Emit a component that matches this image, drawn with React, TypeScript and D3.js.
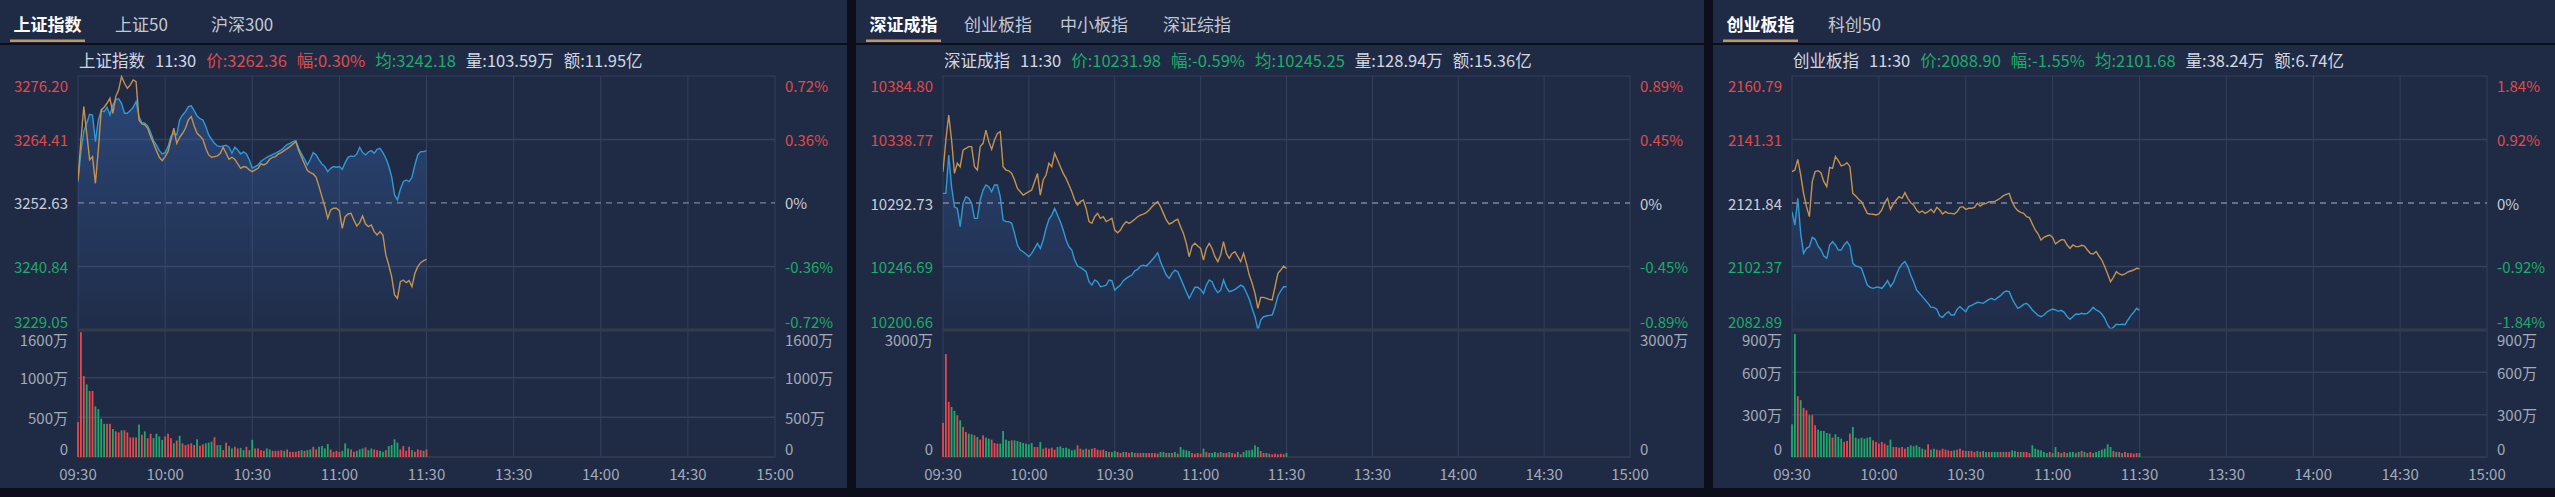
import React, { useEffect } from 'react';
import * as d3 from 'd3';

// ---------- DATA ----------
const TIME_LABELS = ['09:30', '10:00', '10:30', '11:00', '11:30', '13:30', '14:00', '14:30', '15:00'];

const SH_TABS = ['上证指数', '上证50', '沪深300'];
const SZ_TABS = ['深证成指', '创业板指', '中小板指', '深证综指'];
const CY_TABS = ['创业板指', '科创50'];

const SH_PRICE_TICKS = [3276.2, 3264.41, 3252.63, 3240.84, 3229.05];
const SH_PCT_TICKS = ['0.72%', '0.36%', '0%', '-0.36%', '-0.72%'];
const SZ_PRICE_TICKS = [10384.8, 10338.77, 10292.73, 10246.69, 10200.66];
const SZ_PCT_TICKS = ['0.89%', '0.45%', '0%', '-0.45%', '-0.89%'];
const CY_PRICE_TICKS = [2160.79, 2141.31, 2121.84, 2102.37, 2082.89];
const CY_PCT_TICKS = ['1.84%', '0.92%', '0%', '-0.92%', '-1.84%'];

const SH_VOL_TICKS = [0, 500, 1000, 1600];
const SZ_VOL_TICKS = [0, 3000];
const CY_VOL_TICKS = [0, 300, 600, 900];

const SH_INFO = { name: '上证指数', time: '11:30', price: '3262.36', chg: '0.30%', avg: '3242.18', vol: '103.59万', amt: '11.95亿', up: true, avgUp: false };
const SZ_INFO = { name: '深证成指', time: '11:30', price: '10231.98', chg: '-0.59%', avg: '10245.25', vol: '128.94万', amt: '15.36亿', up: false, avgUp: false };
const CY_INFO = { name: '创业板指', time: '11:30', price: '2088.90', chg: '-1.55%', avg: '2101.68', vol: '38.24万', amt: '6.74亿', up: false, avgUp: false };

const SH_PRICE = [
  3256.59, 3262.17, 3265.88, 3267.43, 3269.10, 3268.97, 3264.02, 3268.05, 3269.78, 3269.59,
  3270.40, 3268.97, 3270.83, 3271.82, 3271.95, 3271.14, 3269.28, 3269.28, 3269.78, 3270.40,
  3271.45, 3268.66, 3267.55, 3267.43, 3266.93, 3265.69, 3264.21, 3263.40, 3262.35, 3261.73,
  3261.98, 3263.09, 3264.95, 3265.57, 3265.26, 3268.05, 3268.97, 3269.59, 3270.52, 3270.65,
  3269.78, 3268.79, 3268.29, 3268.05, 3266.81, 3265.26, 3264.46, 3263.71, 3263.22, 3263.09,
  3263.22, 3263.34, 3262.97, 3261.86, 3262.97, 3262.47, 3261.73, 3262.10, 3261.73, 3260.62,
  3259.07, 3259.38, 3259.69, 3260.37, 3260.74, 3261.11, 3261.36, 3261.61, 3261.86, 3262.17,
  3262.47, 3262.97, 3263.47, 3263.71, 3264.02, 3264.21, 3262.78, 3261.73, 3260.74, 3259.69,
  3260.74, 3261.98, 3261.55, 3260.62, 3259.88, 3259.38, 3258.45, 3259.07, 3259.38, 3259.26,
  3259.38, 3258.88, 3260.12, 3261.11, 3261.36, 3261.24, 3261.73, 3262.97, 3261.98, 3261.55,
  3262.10, 3262.35, 3261.86, 3262.60, 3262.78, 3261.98, 3260.93, 3259.50, 3257.52, 3254.12,
  3253.19, 3255.17, 3256.59, 3256.90, 3256.59, 3257.40, 3259.69, 3261.55, 3262.17, 3262.17,
  3262.36,
];
const SH_AVG = [
  3256.90, 3264.33, 3270.52, 3265.57, 3260.62, 3261.24, 3256.28, 3262.47, 3269.90, 3270.40,
  3271.14, 3272.07, 3269.28, 3272.38, 3273.62, 3276.10, 3274.85, 3273.93, 3274.55, 3275.47,
  3275.16, 3268.05, 3267.30, 3267.12, 3266.50, 3264.95, 3263.71, 3262.35, 3261.11, 3260.49,
  3261.24, 3262.17, 3264.33, 3266.50, 3263.71, 3264.83, 3265.57, 3266.50, 3268.05, 3268.66,
  3266.93, 3265.57, 3265.07, 3264.46, 3262.78, 3261.55, 3261.11, 3261.24, 3261.36, 3261.86,
  3262.97, 3261.86, 3260.74, 3261.11, 3260.74, 3259.88, 3259.07, 3259.38, 3259.26, 3258.76,
  3258.45, 3258.76, 3259.07, 3259.88, 3259.69, 3260.00, 3260.74, 3261.11, 3261.24, 3261.73,
  3261.98, 3262.35, 3262.72, 3263.09, 3263.59, 3264.02, 3262.35, 3261.11, 3259.88, 3258.64,
  3258.27, 3258.02, 3257.40, 3255.67, 3253.81, 3251.95, 3249.79, 3251.33, 3251.64, 3251.64,
  3251.21, 3247.93, 3250.09, 3250.59, 3250.71, 3249.48, 3248.36, 3248.98, 3250.22, 3248.73,
  3248.24, 3248.55, 3247.31, 3246.69, 3247.31, 3246.69, 3242.98, 3241.12, 3238.95, 3235.55,
  3234.93, 3238.02, 3238.33, 3237.84, 3238.21, 3237.10, 3239.57, 3240.81, 3241.55, 3241.92,
  3242.18,
];
const SH_VOL = [
  440, 1573, 1021, 914, 832, 832, 638, 603, 483, 418,
  418, 418, 353, 323, 310, 336, 336, 310, 246, 246,
  246, 409, 280, 323, 237, 293, 237, 293, 259, 216,
  259, 293, 237, 172, 207, 267, 172, 151, 159, 172,
  151, 224, 142, 159, 172, 181, 194, 250, 151, 151,
  86, 181, 138, 108, 129, 108, 116, 86, 129, 86,
  216, 108, 108, 86, 78, 108, 95, 78, 78, 78,
  86, 78, 95, 65, 65, 65, 78, 86, 78, 86,
  95, 129, 95, 129, 138, 108, 164, 95, 65, 78,
  65, 78, 172, 108, 95, 65, 78, 95, 108, 121,
  86, 108, 95, 86, 78, 65, 86, 138, 151, 224,
  181, 95, 138, 78, 129, 86, 65, 95, 86, 78,
  95,
];
const SH_DIR = 'rrrgrrgggg' + 'rrgrrgrrrr' + 'rgrgrrgggg' + 'rrrgrgrrrr' + 'rgrrgggrgg' + 'rrggrrggrg' + 'grrrrggrrr' + 'rgrrrrrgrg' + 'grrggggrrr' + 'rgggrrgggr' + 'ggrrggrggg' + 'grrrrgrrrg' + 'r';

const SZ_PRICE = [
  10299.7, 10299.7, 10327.5, 10304.5, 10290.0, 10288.8, 10275.5, 10292.5, 10297.3, 10296.1,
  10292.5, 10281.6, 10281.6, 10294.9, 10302.1, 10305.8, 10304.5, 10300.9, 10305.8, 10305.8,
  10297.3, 10280.4, 10279.2, 10279.2, 10278.0, 10270.7, 10262.3, 10258.6, 10257.4, 10255.7,
  10253.8, 10256.2, 10259.8, 10263.5, 10259.8, 10265.9, 10274.3, 10280.9, 10284.0, 10288.8,
  10284.0, 10279.2, 10273.1, 10265.9, 10261.0, 10258.6, 10251.4, 10247.0, 10246.1, 10244.6,
  10242.9, 10235.7, 10233.2, 10236.9, 10235.7, 10232.0, 10232.5, 10233.2, 10236.9, 10236.4,
  10229.6, 10231.6, 10233.2, 10236.4, 10238.1, 10239.3, 10240.5, 10243.6, 10244.6, 10247.0,
  10247.7, 10247.0, 10249.0, 10251.4, 10253.8, 10256.7, 10250.2, 10245.3, 10240.5, 10238.1,
  10241.7, 10244.1, 10242.9, 10238.1, 10233.2, 10228.4, 10223.6, 10227.7, 10231.6, 10231.6,
  10230.1, 10227.2, 10233.2, 10236.9, 10235.7, 10230.8, 10227.7, 10229.6, 10236.9, 10231.6,
  10228.4, 10229.1, 10230.1, 10231.6, 10233.2, 10232.0, 10227.7, 10222.9, 10216.3, 10210.3,
  10200.7, 10207.9, 10210.3, 10210.8, 10211.3, 10211.5, 10217.5, 10225.3, 10229.1, 10232.0,
  10231.98,
];
const SZ_AVG = [
  10315.4, 10338.4, 10356.5, 10338.4, 10314.2, 10321.5, 10319.0, 10331.1, 10332.3, 10333.6,
  10333.6, 10319.0, 10316.6, 10333.6, 10336.0, 10345.6, 10337.2, 10331.6, 10338.4, 10343.2,
  10344.4, 10319.0, 10316.6, 10316.1, 10314.2, 10309.4, 10303.3, 10300.9, 10298.5, 10299.7,
  10300.9, 10302.1, 10308.2, 10314.2, 10298.5, 10309.4, 10313.0, 10321.5, 10319.0, 10328.7,
  10323.9, 10319.0, 10314.2, 10310.6, 10305.8, 10300.9, 10294.9, 10291.3, 10293.7, 10294.9,
  10288.8, 10279.2, 10278.0, 10282.8, 10285.2, 10281.6, 10282.8, 10279.2, 10280.4, 10281.6,
  10273.1, 10271.2, 10273.1, 10276.8, 10279.2, 10278.0, 10279.2, 10280.9, 10282.8, 10284.0,
  10284.7, 10285.7, 10287.6, 10290.0, 10292.0, 10293.7, 10290.0, 10285.2, 10280.4, 10277.5,
  10278.4, 10279.9, 10280.9, 10275.5, 10270.7, 10263.5, 10253.8, 10261.5, 10263.5, 10261.5,
  10259.8, 10251.4, 10259.8, 10263.5, 10259.8, 10253.8, 10250.2, 10255.0, 10264.7, 10256.2,
  10252.6, 10256.2, 10257.4, 10253.8, 10250.2, 10256.2, 10249.0, 10240.5, 10234.5, 10227.2,
  10216.3, 10224.3, 10224.3, 10223.6, 10222.9, 10222.4, 10232.0, 10241.7, 10244.1, 10247.0,
  10245.25,
];
const SZ_VOL = [
  805, 2430, 1302, 1184, 1089, 986, 868, 710, 592, 552,
  537, 513, 473, 410, 513, 458, 434, 410, 331, 316,
  316, 615, 410, 379, 394, 394, 379, 355, 331, 316,
  300, 331, 237, 237, 355, 197, 221, 197, 221, 174,
  237, 252, 213, 221, 197, 158, 174, 276, 197, 174,
  197, 174, 197, 213, 174, 158, 174, 142, 118, 118,
  142, 118, 95, 118, 118, 95, 118, 95, 95, 95,
  95, 95, 95, 95, 95, 79, 118, 118, 95, 95,
  95, 118, 79, 237, 174, 158, 142, 95, 79, 95,
  79, 197, 118, 95, 95, 118, 95, 118, 95, 95,
  118, 95, 79, 118, 63, 118, 158, 158, 174, 276,
  237, 142, 95, 95, 79, 63, 79, 63, 79, 63,
  95,
];
const SZ_DIR = 'rrrggrgrrg' + 'grgrrggrrr' + 'ggggrggggg' + 'ggrrgrrrrr' + 'gggggggrrg' + 'rgrrrrrgrg' + 'grrgrrgrrr' + 'grrrrrggrg' + 'rgrggggrrr' + 'rgrgggrgrr' + 'grrgrggggg' + 'grrgrrrrrr' + 'g';

const CY_PRICE = [
  2119.18, 2115.09, 2123.27, 2112.54, 2106.41, 2107.94, 2108.45, 2111.31, 2110.70, 2108.65,
  2107.43, 2105.59, 2104.87, 2108.96, 2109.98, 2108.96, 2107.43, 2107.43, 2108.96, 2109.98,
  2108.65, 2103.34, 2102.52, 2102.32, 2101.80, 2099.25, 2096.69, 2095.98, 2095.67, 2095.98,
  2095.98, 2095.67, 2096.69, 2098.02, 2096.18, 2097.41, 2099.76, 2101.80, 2103.13, 2103.85,
  2102.32, 2099.76, 2097.72, 2095.16, 2094.14, 2093.12, 2092.09, 2091.07, 2089.84, 2089.84,
  2089.23, 2087.19, 2086.78, 2087.80, 2088.51, 2087.49, 2087.49, 2089.23, 2090.05, 2089.23,
  2088.51, 2090.05, 2090.46, 2090.87, 2091.38, 2091.28, 2091.07, 2091.68, 2092.30, 2092.60,
  2092.09, 2092.81, 2093.42, 2094.34, 2094.85, 2094.65, 2092.60, 2090.87, 2089.54, 2090.05,
  2090.76, 2091.07, 2090.25, 2089.03, 2088.21, 2087.39, 2086.98, 2087.49, 2088.41, 2088.92,
  2089.33, 2089.03, 2088.62, 2088.92, 2088.31, 2086.98, 2086.16, 2086.98, 2087.80, 2087.70,
  2088.00, 2087.80, 2088.00, 2088.82, 2089.84, 2089.03, 2088.62, 2087.80, 2086.47, 2084.43,
  2083.20, 2083.71, 2084.63, 2084.53, 2084.63, 2084.53, 2085.96, 2087.29, 2088.31, 2089.54,
  2088.90,
];
const CY_AVG = [
  2131.45, 2131.96, 2135.23, 2130.43, 2124.81, 2120.72, 2117.65, 2128.38, 2131.45, 2131.76,
  2131.14, 2128.38, 2126.85, 2132.78, 2132.47, 2136.05, 2134.83, 2133.19, 2133.50, 2134.21,
  2132.98, 2124.81, 2123.99, 2122.97, 2122.25, 2120.51, 2118.67, 2118.47, 2118.37, 2118.16,
  2118.47, 2119.70, 2121.94, 2123.27, 2119.90, 2121.54, 2122.76, 2123.78, 2123.27, 2125.01,
  2123.27, 2121.94, 2121.23, 2119.70, 2118.88, 2119.39, 2118.67, 2119.18, 2119.90, 2118.88,
  2120.51, 2119.70, 2118.47, 2119.18, 2118.67, 2118.67, 2118.47, 2119.18, 2120.51, 2120.72,
  2119.90, 2120.21, 2120.21, 2120.51, 2121.74, 2120.92, 2121.54, 2121.74, 2122.15, 2122.25,
  2122.35, 2122.76, 2123.38, 2124.09, 2124.50, 2124.81, 2122.25, 2120.51, 2119.49, 2118.98,
  2118.67, 2117.65, 2117.34, 2115.40, 2113.56, 2112.33, 2110.49, 2111.31, 2111.72, 2112.03,
  2111.31, 2109.27, 2109.98, 2110.60, 2110.49, 2108.96, 2107.94, 2108.96, 2108.45, 2108.45,
  2108.86, 2108.65, 2107.43, 2106.41, 2106.20, 2106.92, 2105.59, 2104.36, 2102.32, 2100.07,
  2097.72, 2099.04, 2100.78, 2100.07, 2099.76, 2100.07, 2100.68, 2100.99, 2101.29, 2101.80,
  2101.68,
];
const CY_VOL = [
  232, 871, 431, 403, 348, 331, 296, 296, 225, 194,
  185, 185, 170, 166, 137, 161, 142, 130, 107, 114,
  166, 213, 137, 130, 137, 130, 137, 142, 118, 107,
  95, 107, 95, 83, 123, 71, 71, 66, 71, 59,
  71, 83, 76, 83, 71, 59, 52, 90, 52, 59,
  52, 47, 59, 52, 47, 43, 47, 52, 59, 47,
  43, 43, 43, 36, 43, 36, 43, 36, 36, 36,
  36, 36, 36, 36, 36, 36, 47, 43, 36, 36,
  36, 36, 28, 83, 59, 52, 47, 36, 28, 36,
  28, 71, 36, 28, 36, 28, 36, 36, 28, 36,
  43, 36, 28, 36, 28, 36, 43, 52, 59, 90,
  71, 43, 36, 36, 28, 36, 28, 28, 24, 28,
  28,
];
const CY_DIR = 'ggrgrrgrrg' + 'ggggrgggrr' + 'rgggggggrr' + 'rrrggrrrrr' + 'ggggggrrgg' + 'rrrrrrgrrr' + 'grrrgrggrg' + 'ggrgrrggrg' + 'rrrggggggr' + 'ggrgrgggrg' + 'rgrrgggggg' + 'grgrgrrrrr' + 'g';

// ---------- STYLE / LAYOUT ----------
const W = 2555;
const H = 497;
const FONT = '"Noto Sans CJK SC", "Noto Sans", sans-serif';
const C = {
  page: '#0c0f1a',
  panel: '#1f2a44',
  gridV: '#34405c',
  sep: '#333a4d',
  zero: '#7d8598',
  blue: '#2f9ad6',
  tan: '#c6924f',
  red: '#e5484d',
  green: '#1fa86a',
  redText: '#e04b4b',
  greenText: '#1eaa6b',
  axis: '#a3aab8',
  info: '#d3d8e0',
  tab: '#c3c9d4',
  tabActive: '#ffffff',
  underline: '#c8955a',
};
const PRICE_TOP = 76;
const PRICE_BOT = 330;
const VOL_TOP = 330;
const VOL_BOT = 457;

type PanelCfg = {
  id: string;
  x0: number;
  w: number;
  plotL: number;
  plotR: number;
  tabs: string[];
  tabX: number[];
  info: typeof SH_INFO;
  priceTicks: number[];
  pctTicks: string[];
  volTicks: number[];
  price: number[];
  avg: number[];
  vol: number[];
  dir: string;
};

const PANELS: PanelCfg[] = [
  { id: 'sh', x0: 0, w: 847, plotL: 78, plotR: 775, tabs: SH_TABS, tabX: [0, 115, 211], info: SH_INFO, priceTicks: SH_PRICE_TICKS, pctTicks: SH_PCT_TICKS, volTicks: SH_VOL_TICKS, price: SH_PRICE, avg: SH_AVG, vol: SH_VOL, dir: SH_DIR },
  { id: 'sz', x0: 856, w: 848, plotL: 943, plotR: 1630, tabs: SZ_TABS, tabX: [0, 108, 204, 307], info: SZ_INFO, priceTicks: SZ_PRICE_TICKS, pctTicks: SZ_PCT_TICKS, volTicks: SZ_VOL_TICKS, price: SZ_PRICE, avg: SZ_AVG, vol: SZ_VOL, dir: SZ_DIR },
  { id: 'cy', x0: 1713, w: 842, plotL: 1792, plotR: 2487, tabs: CY_TABS, tabX: [0, 115], info: CY_INFO, priceTicks: CY_PRICE_TICKS, pctTicks: CY_PCT_TICKS, volTicks: CY_VOL_TICKS, price: CY_PRICE, avg: CY_AVG, vol: CY_VOL, dir: CY_DIR },
];

function Panel({ cfg }: { cfg: PanelCfg }) {
  const x = d3.scaleLinear().domain([0, 240]).range([cfg.plotL, cfg.plotR]);
  const pMax = cfg.priceTicks[0];
  const pMin = cfg.priceTicks[cfg.priceTicks.length - 1];
  const prev = cfg.priceTicks[2];
  const y = d3.scaleLinear().domain([pMin, pMax]).range([PRICE_BOT, PRICE_TOP]);
  const vMax = cfg.volTicks[cfg.volTicks.length - 1];
  const yv = d3.scaleLinear().domain([0, vMax]).range([VOL_BOT, VOL_TOP]);

  const line = d3.line<number>().x((_, i) => x(i)).y((d) => y(d));
  const area = d3.area<number>().x((_, i) => x(i)).y0(PRICE_BOT).y1((d) => y(d));

  const gid = `grad-${cfg.id}`;
  const cid = `clip-${cfg.id}`;
  const tickColor = (i: number) => (i < 2 ? C.redText : i > 2 ? C.greenText : '#c9ced8');
  const labelY = (i: number, n: number, yy: number) => (i === 0 ? yy + 9 : i === n - 1 ? yy - 9 : yy);

  const info = cfg.info;
  const pc = info.up ? C.redText : C.greenText;
  const ac = info.avgUp ? C.redText : C.greenText;

  return (
    <g>
      <rect x={cfg.x0} y={0} width={cfg.w} height={488} fill={C.panel} />
      {/* tabs */}
      <rect x={cfg.x0} y={43} width={cfg.w} height={2} fill={C.page} />
      {cfg.tabs.map((t, i) => (
        <text
          key={t}
          x={i === 0 ? cfg.x0 + 47.5 : cfg.x0 + cfg.tabX[i]}
          y={23}
          textAnchor={i === 0 ? 'middle' : 'start'}
          dominantBaseline="central"
          fontSize={17}
          fontWeight={i === 0 ? 700 : 400}
          fill={i === 0 ? C.tabActive : C.tab}
        >
          {t}
        </text>
      ))}
      <rect x={cfg.x0 + 10} y={39.5} width={75} height={2.5} fill={C.underline} />

      {/* info line */}
      <text x={cfg.plotL + 1} y={60} fontSize={16.5} dominantBaseline="central" fill={C.info}>
        <tspan>{info.name}</tspan>
        <tspan dx={10}>{info.time}</tspan>
        <tspan dx={10} fill={pc}>{`价:${info.price}`}</tspan>
        <tspan dx={10} fill={pc}>{`幅:${info.chg}`}</tspan>
        <tspan dx={10} fill={ac}>{`均:${info.avg}`}</tspan>
        <tspan dx={10}>{`量:${info.vol}`}</tspan>
        <tspan dx={10}>{`额:${info.amt}`}</tspan>
      </text>

      <defs>
        <linearGradient id={gid} gradientUnits="userSpaceOnUse" x1={0} y1={PRICE_TOP} x2={0} y2={PRICE_BOT}>
          <stop offset="0%" stopColor="#3a6fc0" stopOpacity={0.42} />
          <stop offset="100%" stopColor="#3a6fc0" stopOpacity={0.04} />
        </linearGradient>
        <clipPath id={cid}>
          <rect x={cfg.plotL} y={PRICE_TOP - 1} width={cfg.plotR - cfg.plotL} height={PRICE_BOT - PRICE_TOP + 2} />
        </clipPath>
      </defs>

      {/* grid */}
      {d3.range(1, 8).map((k) => (
        <line key={k} x1={x(k * 30)} x2={x(k * 30)} y1={PRICE_TOP} y2={VOL_BOT} stroke={C.gridV} strokeWidth={1} />
      ))}
      <rect x={cfg.plotL} y={PRICE_TOP} width={cfg.plotR - cfg.plotL} height={VOL_BOT - PRICE_TOP} fill="none" stroke={C.gridV} strokeWidth={1} />
      {[cfg.priceTicks[1], cfg.priceTicks[3]].map((v) => (
        <line key={v} x1={cfg.plotL} x2={cfg.plotR} y1={y(v)} y2={y(v)} stroke={C.gridV} strokeWidth={1.5} />
      ))}
      {cfg.volTicks.slice(1, -1).map((v) => (
        <line key={v} x1={cfg.plotL} x2={cfg.plotR} y1={yv(v)} y2={yv(v)} stroke={C.gridV} strokeWidth={1.5} />
      ))}

      {/* price area + lines */}
      <g clipPath={`url(#${cid})`}>
        <path d={area(cfg.price) || ''} fill={`url(#${gid})`} />
        <line x1={cfg.plotL} x2={cfg.plotR} y1={y(prev)} y2={y(prev)} stroke={C.zero} strokeWidth={1.3} strokeDasharray="6,5" />
        <path d={line(cfg.price) || ''} fill="none" stroke={C.blue} strokeWidth={1.4} />
        <path d={line(cfg.avg) || ''} fill="none" stroke={C.tan} strokeWidth={1.4} />
      </g>

      {/* separator */}
      <line x1={cfg.plotL} x2={cfg.plotR} y1={PRICE_BOT} y2={PRICE_BOT} stroke={C.sep} strokeWidth={3} />
      <line x1={cfg.plotL} x2={cfg.plotR} y1={VOL_BOT} y2={VOL_BOT} stroke={C.sep} strokeWidth={1.5} />

      {/* volume bars */}
      {cfg.vol.map((v, i) => (
        <rect
          key={i}
          x={x(i) - 0.9}
          y={yv(v)}
          width={1.8}
          height={VOL_BOT - yv(v)}
          fill={cfg.dir[i] === 'r' ? C.red : C.green}
        />
      ))}

      {/* price axis labels */}
      {cfg.priceTicks.map((v, i) => (
        <text key={`l${i}`} x={cfg.plotL - 10} y={labelY(i, 5, y(v))} textAnchor="end" dominantBaseline="central" fontSize={15} fill={tickColor(i)}>
          {v.toFixed(2)}
        </text>
      ))}
      {cfg.pctTicks.map((t, i) => (
        <text key={`r${i}`} x={cfg.plotR + 10} y={labelY(i, 5, y(cfg.priceTicks[i]))} textAnchor="start" dominantBaseline="central" fontSize={15} fill={i === 2 ? '#c9ced8' : tickColor(i)}>
          {t}
        </text>
      ))}
      {cfg.volTicks.map((v, i) => {
        const n = cfg.volTicks.length;
        const yy = i === 0 ? yv(v) - 9 : i === n - 1 ? yv(v) + 9 : yv(v);
        const label = v === 0 ? '0' : `${v}万`;
        return (
          <g key={`v${i}`}>
            <text x={cfg.plotL - 10} y={yy} textAnchor="end" dominantBaseline="central" fontSize={15} fill={C.axis}>{label}</text>
            <text x={cfg.plotR + 10} y={yy} textAnchor="start" dominantBaseline="central" fontSize={15} fill={C.axis}>{label}</text>
          </g>
        );
      })}

      {/* time labels */}
      {TIME_LABELS.map((t, k) => (
        <text key={t} x={x(k * 30)} y={473} textAnchor="middle" dominantBaseline="central" fontSize={15} fill={C.axis}>
          {t}
        </text>
      ))}
    </g>
  );
}

export default function App() {
  useEffect(() => {
    document.body.style.margin = '0';
    document.body.style.background = C.page;
  }, []);
  return (
    <svg
      width={W}
      height={H}
      viewBox={`0 0 ${W} ${H}`}
      style={{ position: 'absolute', left: 0, top: 0, display: 'block', fontFamily: FONT }}
    >
      <rect x={0} y={0} width={W} height={H} fill={C.page} />
      {PANELS.map((p) => (
        <Panel key={p.id} cfg={p} />
      ))}
    </svg>
  );
}
